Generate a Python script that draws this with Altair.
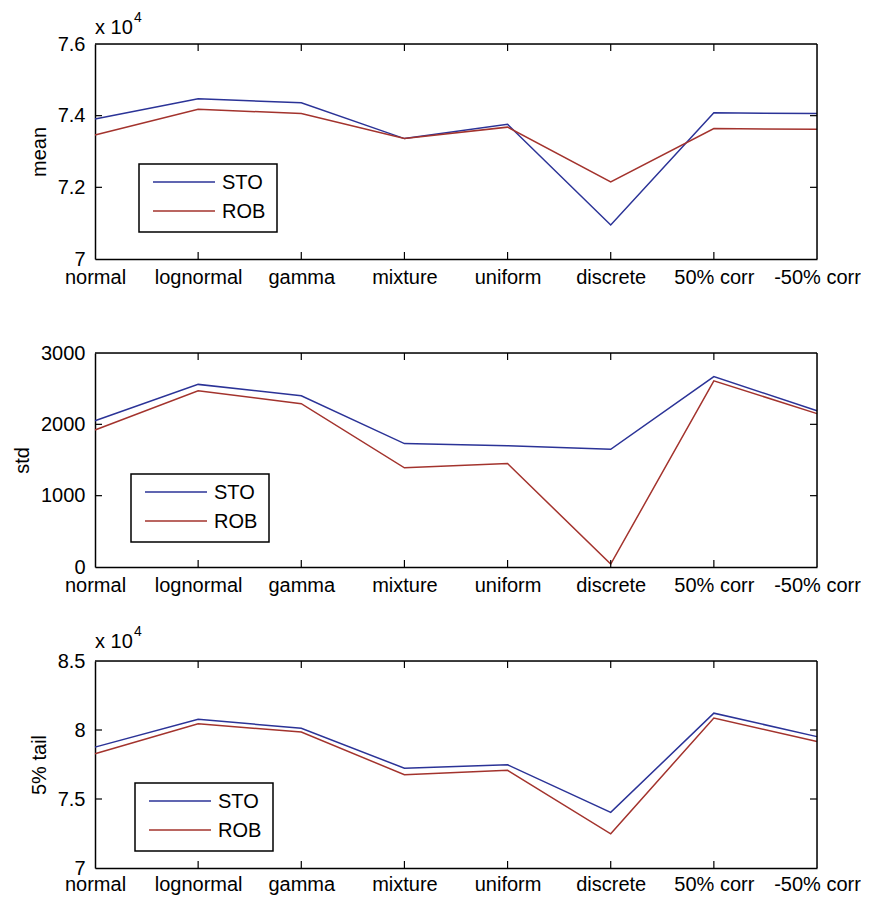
import altair as alt
import pandas as pd

categories = ["normal", "lognormal", "gamma", "mixture", "uniform", "discrete", "50% corr", "-50% corr"]
series_names = ["STO", "ROB"]

mean_sto = [73910, 74470, 74360, 73360, 73760, 70950, 74080, 74060]
mean_rob = [73460, 74180, 74060, 73360, 73680, 72150, 73640, 73620]

std_sto = [2050, 2560, 2400, 1730, 1700, 1650, 2670, 2190]
std_rob = [1920, 2470, 2290, 1390, 1450, 40, 2610, 2150]

tail_sto = [78760, 80770, 80130, 77230, 77480, 74030, 81220, 79520]
tail_rob = [78280, 80450, 79850, 76760, 77080, 72480, 80870, 79160]

mean_ticks = [70000, 72000, 74000, 76000]
std_ticks = [0, 1000, 2000, 3000]
tail_ticks = [70000, 75000, 80000, 85000]

BLUE = "#2b3397"
RED = "#a3332d"
COLORS = [BLUE, RED]
FONT = "Liberation Sans"
W = 722


def long_df(sto, rob):
    rows = []
    for name, vals in zip(series_names, [sto, rob]):
        for c, v in zip(categories, vals):
            rows.append({"dist": c, "series": name, "value": v})
    return pd.DataFrame(rows)


def panel(sto, rob, domain, ticks, title, H, leg_x, leg_y, scaled, exp_y, xpad):
    df = long_df(sto, rob)
    xs = alt.Scale(type="point", padding=0, domain=categories)
    ys = alt.Scale(domain=domain, nice=False, zero=False)
    label_expr = "datum.value / 10000 + ''" if scaled else "datum.value + ''"
    lines = alt.Chart(df).mark_line(strokeWidth=1.5).encode(
        x=alt.X("dist:N", scale=xs, sort=categories,
                axis=alt.Axis(title=None, labelAngle=0, ticks=False, labelPadding=xpad,
                              labelFontSize=20, domainColor="black", domainWidth=1.5)),
        y=alt.Y("value:Q", scale=ys,
                axis=alt.Axis(title=title, values=ticks, ticks=False, grid=False,
                              labelExpr=label_expr, labelPadding=10, labelFontSize=20,
                              titleFontSize=20, titleFontWeight="normal", titlePadding=8,
                              domainColor="black", domainWidth=1.5)),
        color=alt.Color("series:N", sort=series_names,
                        scale=alt.Scale(domain=series_names, range=COLORS),
                        legend=None),
    )
    one = pd.DataFrame({"k": [0]})
    frame_top = alt.Chart(one).mark_rule(color="black", strokeWidth=1.5).encode(
        x=alt.value(0), x2=alt.value(W), y=alt.value(0))
    frame_right = alt.Chart(one).mark_rule(color="black", strokeWidth=1.5).encode(
        x=alt.value(W), y=alt.value(0), y2=alt.value(H))
    inner = categories[1:-1]
    xt = pd.DataFrame({"dist": inner})
    xbot = alt.Chart(xt).mark_rule(color="black", strokeWidth=1.2).encode(
        x=alt.X("dist:N", scale=xs, sort=categories), y=alt.value(H), y2=alt.value(H - 7))
    xtop = alt.Chart(xt).mark_rule(color="black", strokeWidth=1.2).encode(
        x=alt.X("dist:N", scale=xs, sort=categories), y=alt.value(0), y2=alt.value(7))
    yt = pd.DataFrame({"value": ticks[1:-1]})
    yleft = alt.Chart(yt).mark_rule(color="black", strokeWidth=1.2).encode(
        y=alt.Y("value:Q", scale=ys), x=alt.value(0), x2=alt.value(7))
    yright = alt.Chart(yt).mark_rule(color="black", strokeWidth=1.2).encode(
        y=alt.Y("value:Q", scale=ys), x=alt.value(W - 7), x2=alt.value(W))
    layers = [lines, frame_top, frame_right, xbot, xtop, yleft, yright]

    # legend box drawn as marks
    box = alt.Chart(one).mark_rect(
        fill="white", stroke="black", strokeWidth=1.5
    ).encode(x=alt.value(leg_x), x2=alt.value(leg_x + 138),
             y=alt.value(leg_y), y2=alt.value(leg_y + 68))
    layers.append(box)
    for i, (name, col) in enumerate(zip(series_names, COLORS)):
        ry = leg_y + 18 + i * 29
        sym = alt.Chart(pd.DataFrame({"series": [name]})).mark_rule(
            color=col, strokeWidth=1.5
        ).encode(x=alt.value(leg_x + 14), x2=alt.value(leg_x + 76), y=alt.value(ry))
        lab = alt.Chart(pd.DataFrame({"series": [name]})).mark_text(
            align="left", baseline="middle", fontSize=20, font=FONT, color="black"
        ).encode(text="series:N", x=alt.value(leg_x + 83), y=alt.value(ry + 1))
        layers += [sym, lab]

    if scaled:
        t1 = alt.Chart(pd.DataFrame({"t": ["x 10"]})).mark_text(
            align="left", baseline="alphabetic", fontSize=20, font=FONT, color="black"
        ).encode(text="t:N", x=alt.value(0), y=alt.value(exp_y))
        t2 = alt.Chart(pd.DataFrame({"t": ["4"]})).mark_text(
            align="left", baseline="alphabetic", fontSize=14, font=FONT, color="black"
        ).encode(text="t:N", x=alt.value(39), y=alt.value(exp_y - 12))
        layers += [t1, t2]
    return alt.layer(*layers).properties(width=W, height=H)


p1 = panel(mean_sto, mean_rob, [70000, 76000], mean_ticks, "mean", 215, 44, 120, True, -10, 8)
p2 = panel(std_sto, std_rob, [0, 3000], std_ticks, "std", 214, 36, 121, False, 0, 8)
p3 = panel(tail_sto, tail_rob, [70000, 85000], tail_ticks, "5% tail", 207, 40, 122, True, -13, 6)

chart = alt.vconcat(p1, p2, p3, spacing=94, bounds="flush").resolve_scale(
    y="independent", x="independent"
).configure_view(
    stroke="black", strokeWidth=1.5
).configure_axis(
    labelFont=FONT, titleFont=FONT, labelColor="black", titleColor="black"
).configure(background="white", padding={"left": 4, "top": 2, "right": 0, "bottom": 0})

chart.save("out.html", embed_options={"renderer": "svg", "actions": False})
